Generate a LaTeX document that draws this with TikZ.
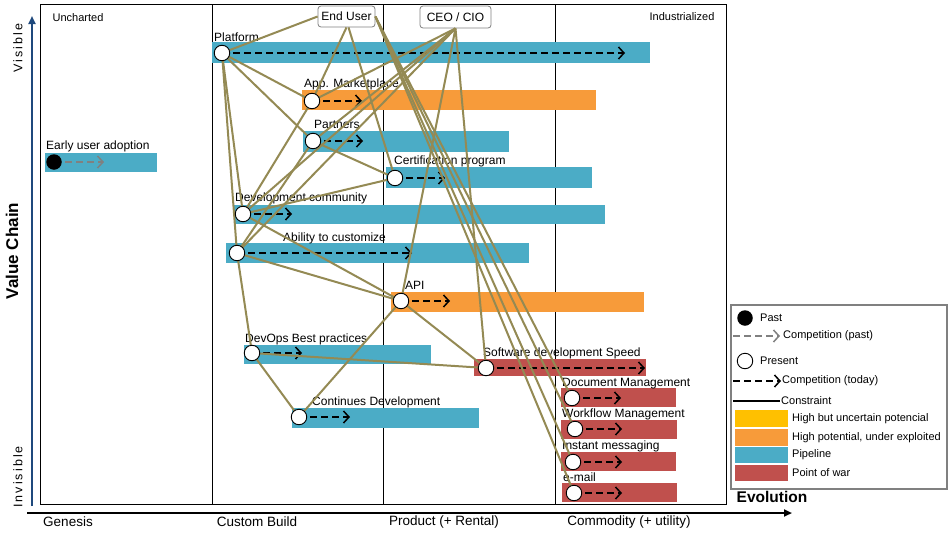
\documentclass[tikz,border=0pt]{standalone}
\usepackage{fontspec}
\setmainfont{Liberation Sans}
\usetikzlibrary{arrows.meta}
\definecolor{pipe}{HTML}{4BACC6}
\definecolor{orng}{HTML}{F79B3A}
\definecolor{warr}{HTML}{C0504D}
\definecolor{yell}{HTML}{FFC000}
\definecolor{olivec}{HTML}{948A54}
\definecolor{navyc}{HTML}{1F497D}
\definecolor{frameg}{HTML}{808080}
\begin{document}
\begin{tikzpicture}[x=1pt,y=-1pt,
  pres/.style={circle, draw=black, line width=0.9pt, fill=white, minimum size=15.5pt, inner sep=0pt},
  pastc/.style={circle, fill=black, minimum size=15.5pt, inner sep=0pt},
  comp/.style={draw=black, line width=1.9pt, dash pattern=on 6.5pt off 4.5pt, -{Straight Barb[length=5.5pt,width=12pt,line width=1.5pt]}},
  comppast/.style={draw=gray, line width=1.9pt, dash pattern=on 6.5pt off 4.5pt, -{Straight Barb[length=5.5pt,width=12pt,line width=1.5pt]}},
  con/.style={draw=olivec, line width=2pt},
  lbl/.style={anchor=base west, inner sep=0pt, font=\fontsize{12}{14}\selectfont},
  lgd/.style={anchor=west, inner sep=0pt, font=\fontsize{11}{13}\selectfont},
  actor/.style={draw=frameg, rounded corners=3pt, fill=white, line width=0.8pt, inner sep=0pt, font=\fontsize{12}{14}\selectfont},
  axl/.style={inner sep=0pt, font=\fontsize{13.5}{15}\selectfont},
  small/.style={inner sep=0pt, font=\fontsize{11}{12}\selectfont}
]
\useasboundingbox (0,0) rectangle (951,533);
\fill[white] (0,0) rectangle (951,533);

% frame and columns
\draw[line width=1pt] (40,4) rectangle (726,504);
\draw[line width=1pt] (212,4) -- (212,504);
\draw[line width=1pt] (383,4) -- (383,504);
\draw[line width=1pt] (555,4) -- (555,504);

% axes
\draw[navyc, line width=2pt, -{Triangle[length=8pt,width=7pt]}] (32,506) -- (32,16);
\draw[black, line width=2pt, -{Triangle[length=8pt,width=7pt]}] (27,513) -- (792,513);
\node[rotate=90, inner sep=0pt, font=\fontsize{12.5}{14}\selectfont] (vis) at (18,48) {V\,i\,s\,i\,b\,l\,e};
\node[rotate=90, inner sep=0pt, font=\fontsize{12.5}{14}\selectfont] (invis) at (18,477) {I\,n\,v\,i\,s\,i\,b\,l\,e};
\node[rotate=90, inner sep=0pt, font=\fontsize{17}{19}\selectfont\bfseries] (vc) at (12,251) {Value Chain};
\node[inner sep=0pt, font=\fontsize{15.5}{17}\selectfont\bfseries] (evo) at (772,497) {Evolution};
\node[axl] (gen) at (68,522) {Genesis};
\node[axl] (cb) at (257,522) {Custom Build};
\node[axl] (prod) at (444,522) {Product (+ Rental)};
\node[axl] (comm) at (629,522) {Commodity (+ utility)};
\node[small] (unch) at (78,18) {Uncharted};
\node[small] (ind) at (682,17) {Industrialized};

% bars
\fill[pipe] (212,42) rectangle (650,63);
\fill[orng] (302,90) rectangle (596,110);
\fill[pipe] (303,131) rectangle (509,152);
\fill[pipe] (386,167) rectangle (592,188);
\fill[pipe] (234,205) rectangle (605,224);
\fill[pipe] (226,243) rectangle (529,263);
\fill[orng] (391,292) rectangle (644,312);
\fill[pipe] (244,345) rectangle (431,364);
\fill[warr] (474,359) rectangle (646,376);
\fill[warr] (561,388) rectangle (676,407);
\fill[warr] (561,420) rectangle (677,439);
\fill[warr] (561,452) rectangle (676,471);
\fill[warr] (562,483) rectangle (677,502);
\fill[pipe] (292,408) rectangle (479,428);
\fill[pipe] (45,153) rectangle (157,172);

% labels
\node[lbl] (tplat) at (214,41) {Platform};
\node[lbl] (tmkt) at (304,87) {App. Marketplace};
\node[lbl] (tpart) at (314,128) {Partners};
\node[lbl] (tcert) at (394,164) {Certification program};
\node[lbl] (tdev) at (235,201) {Development community};
\node[lbl] (tabl) at (283,241) {Ability to customize};
\node[lbl] (tapi) at (405,289) {API};
\node[lbl] (tdvo) at (245,342) {DevOps Best practices};
\node[lbl] (tsds) at (483,356) {Software development Speed};
\node[lbl] (tdoc) at (562,386) {Document Management};
\node[lbl] (twf) at (562,417) {Workflow Management};
\node[lbl] (tim) at (562,449) {Instant messaging};
\node[lbl] (tem) at (563,481) {e-mail};
\node[lbl] (tcd) at (312,405) {Continues Development};
\node[lbl] (tear) at (46,149) {Early user adoption};

% circle positions
\coordinate (cplat) at (222,53);
\coordinate (cmkt) at (312,101);
\coordinate (cpart) at (313,141);
\coordinate (ccert) at (395,178);
\coordinate (cdev) at (243,214);
\coordinate (cabl) at (237,253);
\coordinate (capi) at (401,301);
\coordinate (cdvo) at (252,353);
\coordinate (csds) at (486,368);
\coordinate (cdoc) at (572,398);
\coordinate (cwf) at (575,429);
\coordinate (cim) at (573,462);
\coordinate (cem) at (574,493);
\coordinate (ccd) at (299,417);
\coordinate (cear) at (54,162);

% competition arrows
\draw[comp] (cplat) -- ++(403,0);
\draw[comp] (cmkt) -- ++(50,0);
\draw[comp] (cpart) -- ++(50,0);
\draw[comp] (ccert) -- ++(50,0);
\draw[comp] (cdev) -- ++(49,0);
\draw[comp] (cabl) -- ++(175,0);
\draw[comp] (capi) -- ++(49,0);
\draw[comp] (cdvo) -- ++(50,0);
\draw[comp] (csds) -- ++(159,0);
\draw[comp] (cdoc) -- ++(49,0);
\draw[comp] (cwf) -- ++(47,0);
\draw[comp] (cim) -- ++(49,0);
\draw[comp] (cem) -- ++(48,0);
\draw[comp] (ccd) -- ++(51,0);
\draw[comppast] (cear) -- ++(50,0);

% actors
\node[actor, minimum width=57pt, minimum height=21pt] (eu) at (346.5,16.5) {End User};
\node[actor, minimum width=71pt, minimum height=22pt] (ceo) at (455.5,17) {CEO / CIO};

% constraints
\draw[con] (eu.west) -- (cplat);
\draw[con] (eu.south) -- (cmkt);
\draw[con] ([xshift=2pt]eu.south) -- (ccert);
\draw[con] (eu.east) -- (cdoc);
\draw[con] (eu.east) -- (cwf);
\draw[con] (eu.east) -- (cim);
\draw[con] (eu.east) -- (cem);
\draw[con] (ceo.south) -- (cmkt);
\draw[con] (ceo.south) -- (cpart);
\draw[con] (ceo.south) -- (cdev);
\draw[con] (ceo.south) -- (cabl);
\draw[con] (ceo.south) -- (capi);
\draw[con] (ceo.south) -- (csds);
\draw[con] (cplat) -- (cmkt);
\draw[con] (cplat) -- (cpart);
\draw[con] (cplat) -- (cdev);
\draw[con] (cplat) -- (cabl);
\draw[con] (cmkt) -- (cdev);
\draw[con] (cpart) -- (ccert);
\draw[con] (cpart) -- (cabl);
\draw[con] (cdev) -- (ccert);
\draw[con] (cdev) -- (capi);
\draw[con] (cabl) -- (capi);
\draw[con] (cabl) -- (cdvo);
\draw[con] (cdvo) -- (ccd);
\draw[con] (cdvo) -- (csds);
\draw[con] (ccd) -- (capi);
\draw[con] (capi) -- (csds);

% circles
\node[pres] (plat) at (cplat) {};
\node[pres] (mkt) at (cmkt) {};
\node[pres] (part) at (cpart) {};
\node[pres] (cert) at (ccert) {};
\node[pres] (dev) at (cdev) {};
\node[pres] (abl) at (cabl) {};
\node[pres] (api) at (capi) {};
\node[pres] (dvo) at (cdvo) {};
\node[pres] (sds) at (csds) {};
\node[pres] (doc) at (cdoc) {};
\node[pres] (wf) at (cwf) {};
\node[pres] (im) at (cim) {};
\node[pres] (em) at (cem) {};
\node[pres] (cd) at (ccd) {};
\node[pastc] (ear) at (cear) {};

% legend
\draw[frameg, line width=2.5pt, fill=white] (731,305) rectangle (947,489);
\node[pastc] (lpast) at (745,318) {};
\node[lgd] (lpastt) at (760,318) {Past};
\coordinate (lcp1) at (733,336);
\coordinate (lcp2) at (780,336);
\draw[comppast] (lcp1) -- (lcp2);
\node[lgd] (lcpt) at (783,336) {Competition (past)};
\node[pres] (lpres) at (745,361) {};
\node[lgd] (lprest) at (760,361) {Present};
\coordinate (lct1) at (733,381);
\coordinate (lct2) at (781,381);
\draw[comp] (lct1) -- (lct2);
\node[lgd] (lctt) at (782,381) {Competition (today)};
\coordinate (lcn1) at (733,401);
\coordinate (lcn2) at (780,401);
\draw[line width=1.6pt] (lcn1) -- (lcn2);
\node[lgd] (lcnt) at (781,401) {Constraint};
\fill[yell] (735,410) rectangle (788,427);
\node[lgd] (ly) at (792,418.5) {High but uncertain potencial};
\fill[orng] (735,429) rectangle (788,446);
\node[lgd] (lo) at (792,437.5) {High potential, under exploited};
\fill[pipe] (735,447) rectangle (788,463);
\node[lgd] (lb) at (792,455) {Pipeline};
\fill[warr] (735,465) rectangle (788,481);
\node[lgd] (lr) at (792,473) {Point of war};
\end{tikzpicture}
\end{document}
